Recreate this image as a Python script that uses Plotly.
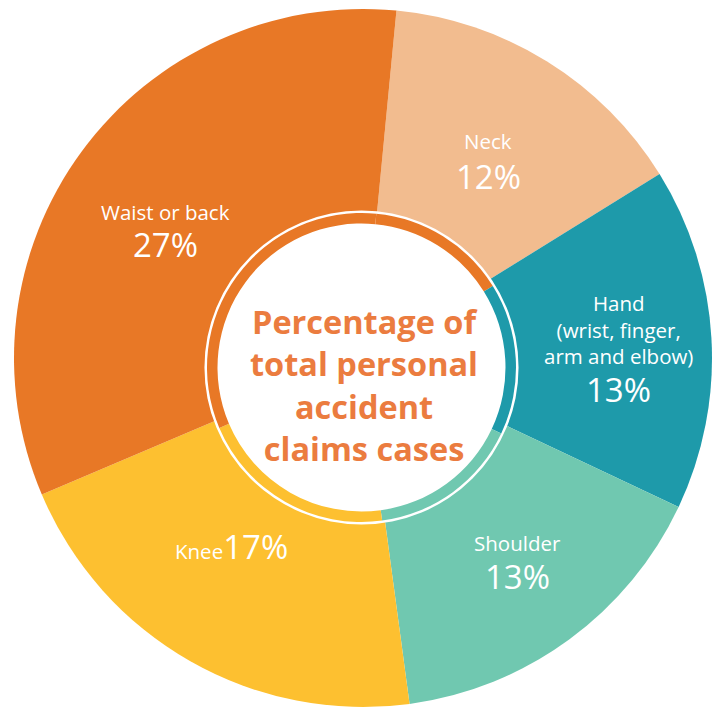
import plotly.graph_objects as go

# ---------------- data ----------------
categories = ["Neck", "Hand", "Shoulder", "Knee", "Waist or back"]
values = [12, 13, 13, 17, 27]
label_lines = [["Neck"], ["Hand", "(wrist, finger,", "arm and elbow)"], ["Shoulder"], ["Knee"], ["Waist or back"]]
center_title = ["Percentage of", "total personal", "accident", "claims cases"]

# ---------------- styling ----------------
slice_colors = ["#F2BC8F", "#1E9AAA", "#70C8B0", "#FDC030", "#E87826"]
band_colors = ["#E87826", "#1E9AAA", "#70C8B0", "#FDC030", "#E87826"]
title_color = "#EB7C3F"
FONT = "Open Sans"

W_FIG, H_FIG = 717, 709
L, R, T, B_M = 14, 5, 9, 2
PW = W_FIG - L - R
PH = H_FIG - T - B_M
BOTTOM = H_FIG - B_M


def px2paper(px, py):
    return (px - L) / PW, (BOTTOM - py) / PH


def dom(cx, cy, r):
    return dict(x=[(cx - r - L) / PW, (cx + r - L) / PW],
                y=[(BOTTOM - (cy + r)) / PH, (BOTTOM - (cy - r)) / PH])


ROT = 5.5

fig = go.Figure()
# outer full pie
fig.add_trace(go.Pie(
    labels=categories, values=values, sort=False, direction="clockwise",
    rotation=ROT, hole=0, textinfo="none", hoverinfo="label+value",
    marker=dict(colors=slice_colors, line=dict(width=0)),
    domain=dict(x=[0, 1], y=[0, 1]), showlegend=False,
))
# white separating disk
fig.add_trace(go.Pie(
    labels=["c"], values=[1], sort=False, textinfo="none", hoverinfo="skip",
    marker=dict(colors=["#FFFFFF"], line=dict(width=0)),
    domain=dom(361.5, 367.5, 157), showlegend=False,
))
# inner thin band
fig.add_trace(go.Pie(
    labels=categories, values=values, sort=False, direction="clockwise",
    rotation=ROT, hole=144 / 154.5, textinfo="none", hoverinfo="skip",
    marker=dict(colors=band_colors, line=dict(width=0)),
    domain=dom(361.5, 367.5, 154.5), showlegend=False,
))

annotations = []
LABEL_SIZE = 20.5
PCT_SIZE = 33

# label block positions (pixel centers)
label_pos = {
    "Neck": dict(x=488, y=141, pct_y=177),
    "Hand": dict(x=618, y=329.5, pct_y=389),
    "Shoulder": dict(x=517, y=543, pct_y=576),
    "Waist or back": dict(x=165, y=212, pct_y=244),
}

for cat, val, lines in zip(categories, values, label_lines):
    if cat == "Knee":
        xp, yp = px2paper(231, 546)
        annotations.append(dict(
            x=xp, y=yp, xref="paper", yref="paper", showarrow=False,
            text=f"{lines[0]}<span style='font-size:{PCT_SIZE}px'>{val}%</span>",
            font=dict(family=FONT, size=LABEL_SIZE, color="white"),
            xanchor="center", yanchor="middle",
        ))
        continue
    p = label_pos[cat]
    xp, yp = px2paper(p["x"], p["y"])
    annotations.append(dict(
        x=xp, y=yp, xref="paper", yref="paper", showarrow=False,
        text="<br>".join(lines),
        font=dict(family=FONT, size=LABEL_SIZE, color="white"),
        xanchor="center", yanchor="middle",
    ))
    xp, yp = px2paper(p["x"], p["pct_y"])
    annotations.append(dict(
        x=xp, y=yp, xref="paper", yref="paper", showarrow=False, text=f"{val}%",
        font=dict(family=FONT, size=PCT_SIZE, color="white"),
        xanchor="center", yanchor="middle",
    ))

# center title
xp, yp = px2paper(364, 385)
annotations.append(dict(
    x=xp, y=yp, xref="paper", yref="paper", showarrow=False,
    text="<br>".join(f"<b>{line}</b>" for line in center_title),
    font=dict(family=FONT, size=32.5, color=title_color),
    xanchor="center", yanchor="middle",
))

fig.update_layout(
    width=W_FIG, height=H_FIG,
    margin=dict(l=L, r=R, t=T, b=B_M, pad=0),
    paper_bgcolor="white", plot_bgcolor="white",
    annotations=annotations,
    showlegend=False,
)

fig.write_html("out.html", config={"displayModeBar": False},
               post_script="document.body.style.margin='0px';")
